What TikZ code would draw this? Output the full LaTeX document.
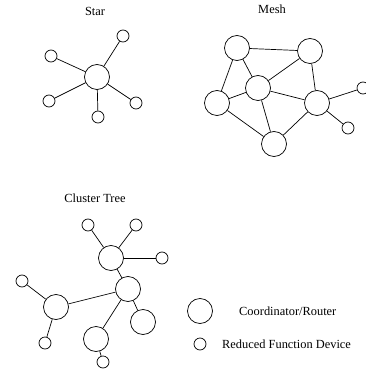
\documentclass[tikz,border=0pt]{standalone}
\usepackage{fontspec}
\setmainfont{Liberation Serif}
\usetikzlibrary{positioning}
\tikzset{
  grande/.style={draw, circle, minimum size=25pt, inner sep=0pt, line width=0.7pt},
  pequeno/.style={draw, circle, minimum size=12pt, inner sep=0pt, line width=0.7pt},
  liga/.style={line width=0.7pt},
  titulo/.style={font=\fontsize{12.4}{14}\selectfont, inner sep=0pt},
}

\begin{document}
\begin{tikzpicture}[x=1pt, y=-1pt]
  \useasboundingbox (0,0) rectangle (365,374);
  % Star
  \node[titulo] (tstar) at (95,11) {Star};
  \node[grande] (sc) at (97,77) {};
  \node[pequeno] (s1) at (123,36) {};
  \node[pequeno] (s2) at (51,56) {};
  \node[pequeno] (s3) at (49,101) {};
  \node[pequeno] (s4) at (98,117) {};
  \node[pequeno] (s5) at (136,103) {};
  \foreach \s in {s1,s2,s3,s4,s5} \draw[liga] (sc) -- (\s);
  % Mesh
  \node[titulo] (tmesh) at (272,9) {Mesh};
  \node[grande] (ma) at (237,48) {};
  \node[grande] (mb) at (310,51) {};
  \node[grande] (mc) at (258,88) {};
  \node[grande] (md) at (217,103) {};
  \node[grande] (me) at (317,103) {};
  \node[grande] (mf) at (274,144) {};
  \node[pequeno] (mg) at (363,88) {};
  \node[pequeno] (mh) at (348,128) {};
  \foreach \a/\b in {ma/mb,ma/md,ma/mc,mb/mc,mb/me,md/mc,md/mf,mc/me,mc/mf,me/mf,me/mg,me/mh}
    \draw[liga] (\a) -- (\b);
  % Cluster Tree
  \node[titulo] (ttree) at (95,198) {Cluster Tree};
  \node[grande] (cp) at (111,258) {};
  \node[grande] (cq) at (128,289) {};
  \node[grande] (cr) at (56,307) {};
  \node[grande] (cs) at (143,322) {};
  \node[grande] (ct) at (96,339) {};
  \node[pequeno] (c1) at (88,225) {};
  \node[pequeno] (c2) at (136,225) {};
  \node[pequeno] (c3) at (162,258) {};
  \node[pequeno] (c4) at (22,281) {};
  \node[pequeno] (c5) at (45,343) {};
  \node[pequeno] (c6) at (103,362) {};
  \foreach \a/\b in {cp/c1,cp/c2,cp/c3,cp/cq,cq/cr,cq/cs,cq/ct,cr/c4,cr/c5,ct/c6}
    \draw[liga] (\a) -- (\b);
  % Legend
  \node[grande] (lgrande) at (200,311) {};
  \node[pequeno] (lpequeno) at (200,344) {};
  \node[titulo, anchor=west] (tcoord) at (239,311) {Coordinator/Router};
  \node[titulo, anchor=west] (trfd) at (222,344) {Reduced Function Device};
\end{tikzpicture}
\end{document}
